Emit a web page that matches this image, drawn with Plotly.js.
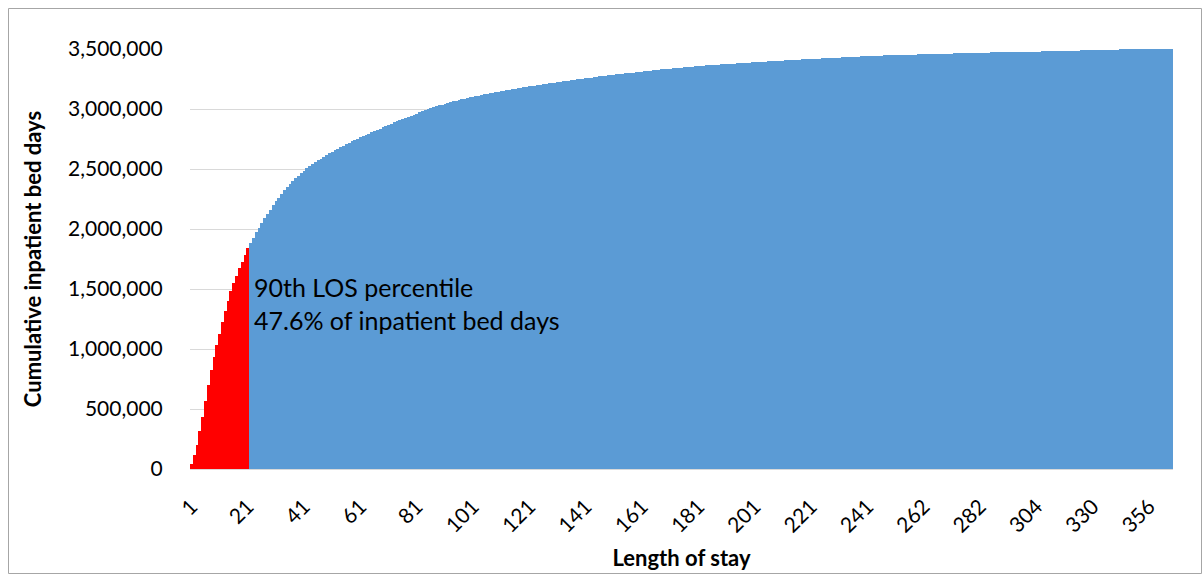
<!DOCTYPE html>
<html>
<head>
<meta charset="utf-8">
<script src="https://cdn.plot.ly/plotly-3.0.1.min.js"></script>
<style>
html,body{margin:0;padding:0;background:#fff;}
#chart{width:1203px;height:575px;}
</style>
</head>
<body>
<div id="chart"></div>
<script>
// Length of stay categories (days) as shown on the category axis
var losCategories = [
1,2,3,4,5,6,7,8,9,10,11,12,13,14,15,16,17,18,19,20,
21,22,23,24,25,26,27,28,29,30,31,32,33,34,35,36,37,38,39,40,
41,42,43,44,45,46,47,48,49,50,51,52,53,54,55,56,57,58,59,60,
61,62,63,64,65,66,67,68,69,70,71,72,73,74,75,76,77,78,79,80,
81,82,83,84,85,86,87,88,89,90,91,92,93,94,95,96,97,98,99,100,
101,102,103,104,105,106,107,108,109,110,111,112,113,114,115,116,117,118,119,120,
121,122,123,124,125,126,127,128,129,130,131,132,133,134,135,136,137,138,139,140,
141,142,143,144,145,146,147,148,149,150,151,152,153,154,155,156,157,158,159,160,
161,162,163,164,165,166,167,168,169,170,171,172,173,174,175,176,177,178,179,180,
181,182,183,184,185,186,187,188,189,190,191,192,193,194,195,196,197,198,199,200,
201,202,203,204,205,206,207,208,209,210,211,212,213,214,215,216,217,218,219,220,
221,222,223,224,225,226,227,228,229,230,231,232,233,234,235,236,237,238,239,240,
241,242,243,244,245,246,247,248,249,250,251,252,253,254,256,257,258,259,260,261,
262,263,264,265,266,267,268,269,270,271,272,273,274,275,276,277,278,279,280,281,
282,283,284,285,286,287,288,289,290,292,293,294,295,296,297,298,300,301,302,303,
304,305,306,307,308,310,311,312,314,315,317,318,320,321,322,324,325,327,328,329,
330,331,332,333,335,336,337,339,340,342,343,344,346,347,349,350,351,353,354,355,
356,357,358,360,361,362,363,364,365
];

// Cumulative inpatient bed days for each length-of-stay category
var cumulativeBedDays = [
45000,114000,203000,314000,434000,565000,698000,823000,934000,1032000,
1129000,1226000,1315000,1399000,1482000,1551000,1607000,1671000,1726000,1782000,
1838000,1885000,1929000,1971000,2011000,2050000,2088000,2125000,2161000,2196000,
2230000,2262000,2292000,2321000,2349000,2375000,2400000,2423000,2445000,2466000,
2486000,2505000,2523000,2540000,2556000,2572000,2587000,2602000,2616000,2630000,
2644000,2657000,2670000,2683000,2695000,2707000,2719000,2730000,2741000,2752000,
2763000,2774000,2785000,2795000,2806000,2816000,2827000,2837000,2847000,2858000,
2868000,2878000,2888000,2898000,2907000,2917000,2926000,2935000,2944000,2953000,
2962000,2971000,2980000,2989000,2998000,3007000,3015000,3023000,3030000,3037000,
3044000,3051000,3058000,3064000,3070000,3076000,3081000,3087000,3092000,3097000,
3102000,3107000,3112000,3117000,3122000,3127000,3131000,3136000,3140000,3145000,
3149000,3153000,3157000,3161000,3165000,3168000,3172000,3176000,3180000,3184000,
3188000,3191000,3195000,3199000,3202000,3206000,3210000,3213000,3217000,3220000,
3224000,3227000,3230000,3234000,3237000,3240000,3243000,3247000,3250000,3253000,
3256000,3259000,3262000,3265000,3268000,3271000,3274000,3277000,3280000,3282000,
3285000,3288000,3290000,3293000,3296000,3298000,3301000,3303000,3306000,3309000,
3311000,3314000,3316000,3319000,3322000,3324000,3327000,3330000,3332000,3335000,
3337000,3339000,3341000,3343000,3345000,3347000,3349000,3352000,3354000,3356000,
3358000,3360000,3362000,3363000,3365000,3366000,3368000,3370000,3371000,3373000,
3374000,3376000,3377000,3379000,3380000,3382000,3383000,3385000,3386000,3388000,
3389000,3391000,3392000,3394000,3395000,3397000,3398000,3399000,3401000,3402000,
3403000,3405000,3406000,3407000,3409000,3410000,3411000,3413000,3414000,3415000,
3416000,3418000,3419000,3420000,3421000,3423000,3424000,3425000,3426000,3428000,
3429000,3430000,3431000,3432000,3433000,3435000,3436000,3437000,3438000,3439000,
3441000,3442000,3443000,3443000,3444000,3445000,3446000,3447000,3448000,3448000,
3449000,3450000,3451000,3452000,3452000,3453000,3454000,3454000,3455000,3456000,
3456000,3457000,3458000,3458000,3459000,3460000,3460000,3461000,3461000,3462000,
3462000,3463000,3464000,3464000,3465000,3465000,3466000,3467000,3467000,3468000,
3468000,3469000,3469000,3470000,3471000,3471000,3472000,3472000,3473000,3473000,
3474000,3474000,3475000,3475000,3476000,3476000,3477000,3477000,3478000,3478000,
3479000,3479000,3480000,3480000,3481000,3481000,3482000,3483000,3483000,3484000,
3484000,3485000,3486000,3486000,3487000,3487000,3488000,3489000,3489000,3490000,
3490000,3491000,3491000,3492000,3493000,3493000,3494000,3494000,3495000,3495000,
3496000,3496000,3497000,3497000,3498000,3498000,3499000,3499000,3500000,3501000,
3501000,3502000,3503000,3503000,3504000,3504000,3505000,3505000,3506000
];

// Categories up to and including the 90th LOS percentile (highlighted)
var percentileLOS = 21;

// Tick labels shown on the x axis
var xTickLabels = ['1','21','41','61','81','101','121','141','161','181','201','221','241','262','282','304','330','356'];

var annotationLines = ['90th LOS percentile', '47.6% of inpatient bed days'];

var xCats = losCategories.map(String);
var barColors = losCategories.map(function (c) { return c <= percentileLOS ? '#FF0000' : '#5B9BD5'; });

var trace = {
  type: 'bar',
  x: xCats,
  y: cumulativeBedDays,
  marker: { color: barColors, line: { width: 0 } },
  hoverinfo: 'x+y'
};

var W = 1203, H = 575;
var mL = 190, mR = 30, mT = 49, mB = 106;
var pw = W - mL - mR, ph = H - mT - mB;
function px(x) { return (x - mL) / pw; }
function py(y) { return (H - mB - y) / ph; }

var layout = {
  width: W, height: H,
  margin: { l: mL, r: mR, t: mT, b: mB, pad: 0 },
  paper_bgcolor: '#ffffff',
  plot_bgcolor: '#ffffff',
  font: { family: 'Lato, "Open Sans", sans-serif', size: 20, color: '#000000' },
  bargap: 0,
  showlegend: false,
  xaxis: {
    type: 'category',
    categoryorder: 'array',
    categoryarray: xCats,
    tickmode: 'array',
    tickvals: xTickLabels,
    ticktext: xTickLabels,
    tickangle: -45,
    ticks: 'outside',
    ticklen: 16,
    tickcolor: 'rgba(0,0,0,0)',
    tickfont: { size: 21, color: '#000000' },
    showgrid: false,
    showline: true,
    linecolor: '#D9D9D9',
    linewidth: 1,
    automargin: false,
    title: { text: '<b>Length of stay</b>', font: { size: 22, color: '#000000' }, standoff: 14 }
  },
  yaxis: {
    range: [0, 3500000],
    tick0: 0,
    dtick: 500000,
    tickformat: ',d',
    ticks: 'outside',
    ticklen: 22,
    tickcolor: 'rgba(0,0,0,0)',
    tickfont: { size: 21, color: '#000000' },
    showgrid: true,
    gridcolor: '#D9D9D9',
    gridwidth: 1,
    zeroline: false,
    automargin: false,
    title: { text: '<b>Cumulative inpatient bed days</b>', font: { size: 22, color: '#000000' }, standoff: 20 }
  },
  annotations: [{
    xref: 'paper', yref: 'paper',
    x: px(252), y: py(303),
    xanchor: 'left', yanchor: 'middle',
    align: 'left',
    showarrow: false,
    text: annotationLines.join('<br>'),
    font: { size: 25, color: '#000000' }
  }],
  shapes: [{
    type: 'rect', xref: 'paper', yref: 'paper',
    x0: px(8.5), x1: px(1201.5), y0: py(573.5), y1: py(8.5),
    line: { color: '#A6A6A6', width: 1 },
    fillcolor: 'rgba(0,0,0,0)',
    layer: 'above'
  }]
};

Plotly.newPlot('chart', [trace], layout, { displayModeBar: false, staticPlot: true });
</script>
</body>
</html>
